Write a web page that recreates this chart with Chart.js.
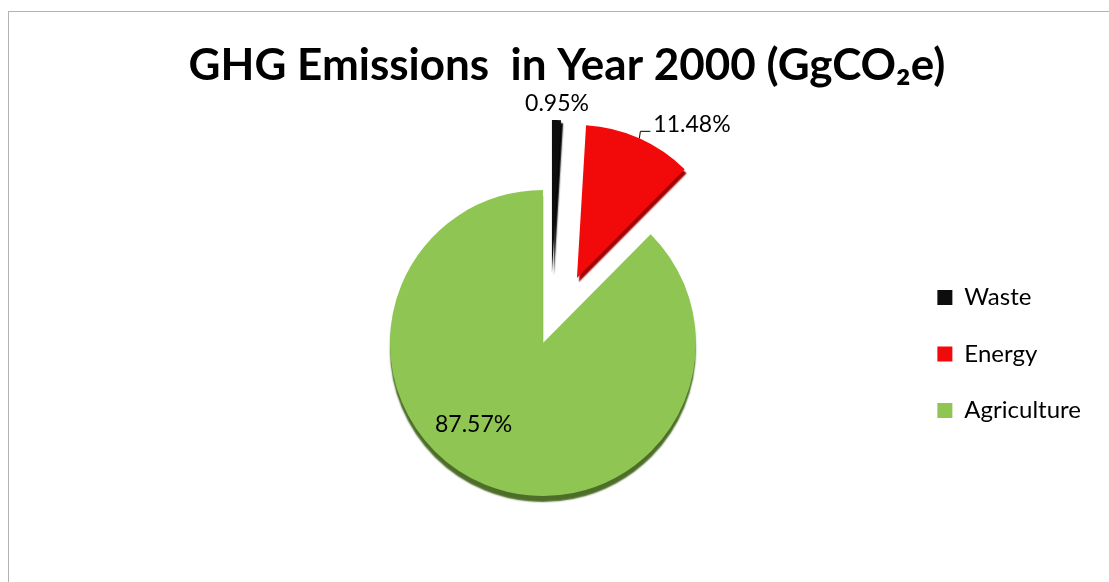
<!DOCTYPE html>
<html>
<head>
<meta charset="utf-8">
<title>GHG Emissions in Year 2000</title>
<script src="https://cdn.jsdelivr.net/npm/chart.js@4.4.1/dist/chart.umd.min.js"></script>
<style>
    html, body { margin: 0; padding: 0; background: #ffffff; }
    #frame {
        position: absolute; left: 8px; top: 11px; width: 1200px; height: 700px;
        border-left: 1px solid #b3b3b3; border-top: 1px solid #b3b3b3;
    }
    #wrap { position: absolute; left: 0; top: 0; width: 1109px; height: 582px; }
</style>
</head>
<body>
<div id="frame"></div>
<div id="wrap"><canvas id="ghgChart"></canvas></div>
<script>
// Data
const sectors = ['Waste', 'Energy', 'Agriculture'];
const shares = [0.95, 11.48, 87.57];   // % of total GgCO2e

// Styling
const sliceColors = ['#0d0d0d', '#f20a0a', '#8fc653'];
const depthColors = ['#000000', '#a30000', '#4d6e29'];
const depthShift = [[2, 3], [2, 4], [0, 6]];
const explode = [[9, -70], [34, -65], [0, 0]];   // pulled-out slices, px
const pieNudge = [69, -11];                        // move pie off the legend-centred spot
const labelSpots = [
    { ring: 1.11, turn: 0, leader: false },
    { ring: 1.0, turn: 0, leader: true },
    { ring: 0.70, turn: 18, leader: false }
];
const fontFamily = 'Lato, "Open Sans", sans-serif';

// moves the arcs and gives each slice its darker 3D edge
const pieLook = {
    id: 'pieLook',
    afterDatasetUpdate(chart, args) {
        args.meta.data.forEach((arc, i) => {
            arc.x += pieNudge[0] + explode[i][0];
            arc.y += pieNudge[1] + explode[i][1];
            if (!arc._depthWrapped) {
                const baseDraw = arc.draw;
                arc.draw = function(ctx, area) {
                    ctx.save();
                    ctx.shadowColor = depthColors[i];
                    ctx.shadowOffsetX = depthShift[i][0];
                    ctx.shadowOffsetY = depthShift[i][1];
                    ctx.shadowBlur = 1.5;
                    baseDraw.call(this, ctx, area);
                    ctx.restore();
                };
                arc._depthWrapped = true;
            }
        });
    }
};

// percentage labels, the Energy one with a small leader line
const pieLabels = {
    id: 'pieLabels',
    afterDatasetsDraw(chart) {
        const ctx = chart.ctx;
        const meta = chart.getDatasetMeta(0);
        ctx.save();
        ctx.font = '23px ' + fontFamily;
        ctx.fillStyle = '#000000';
        ctx.strokeStyle = '#000000';
        ctx.lineWidth = 1;
        ctx.textBaseline = 'middle';
        meta.data.forEach((arc, i) => {
            const spot = labelSpots[i];
            const text = shares[i].toFixed(2) + '%';
            const mid = (arc.startAngle + arc.endAngle) / 2 + spot.turn * Math.PI / 180;
            const r = arc.outerRadius * spot.ring;
            const px = arc.x + Math.cos(mid) * r;
            const py = arc.y + Math.sin(mid) * r;
            if (spot.leader) {
                ctx.beginPath();
                ctx.moveTo(px, py);
                ctx.lineTo(px + 1, py - 7);
                ctx.lineTo(px + 11, py - 7);
                ctx.stroke();
                ctx.textAlign = 'left';
                ctx.fillText(text, px + 14, py - 14);
            } else {
                ctx.textAlign = 'center';
                ctx.fillText(text, px, py);
            }
        });
        ctx.restore();
    }
};

new Chart(document.getElementById('ghgChart'), {
    type: 'pie',
    data: {
        labels: sectors,
        datasets: [{
            data: shares,
            backgroundColor: sliceColors,
            borderWidth: 0
        }]
    },
    options: {
        responsive: true,
        maintainAspectRatio: false,
        animation: false,
        events: [],
        layout: {
            padding: { top: 0, bottom: 75, left: 43, right: 18 }
        },
        plugins: {
            title: {
                display: true,
                text: 'GHG Emissions  in Year 2000 (GgCO₂e)',
                color: '#000000',
                font: { family: fontFamily, size: 44, weight: 'bold' },
                padding: { top: 39.6, bottom: 108.6 }
            },
            legend: {
                position: 'right',
                fullSize: false,
                align: 'center',
                labels: {
                    color: '#000000',
                    boxWidth: 15,
                    boxHeight: 15,
                    padding: 32.5,
                    font: { family: fontFamily, size: 24 }
                }
            },
            tooltip: { enabled: false }
        }
    },
    plugins: [pieLook, pieLabels]
});
</script>
</body>
</html>
